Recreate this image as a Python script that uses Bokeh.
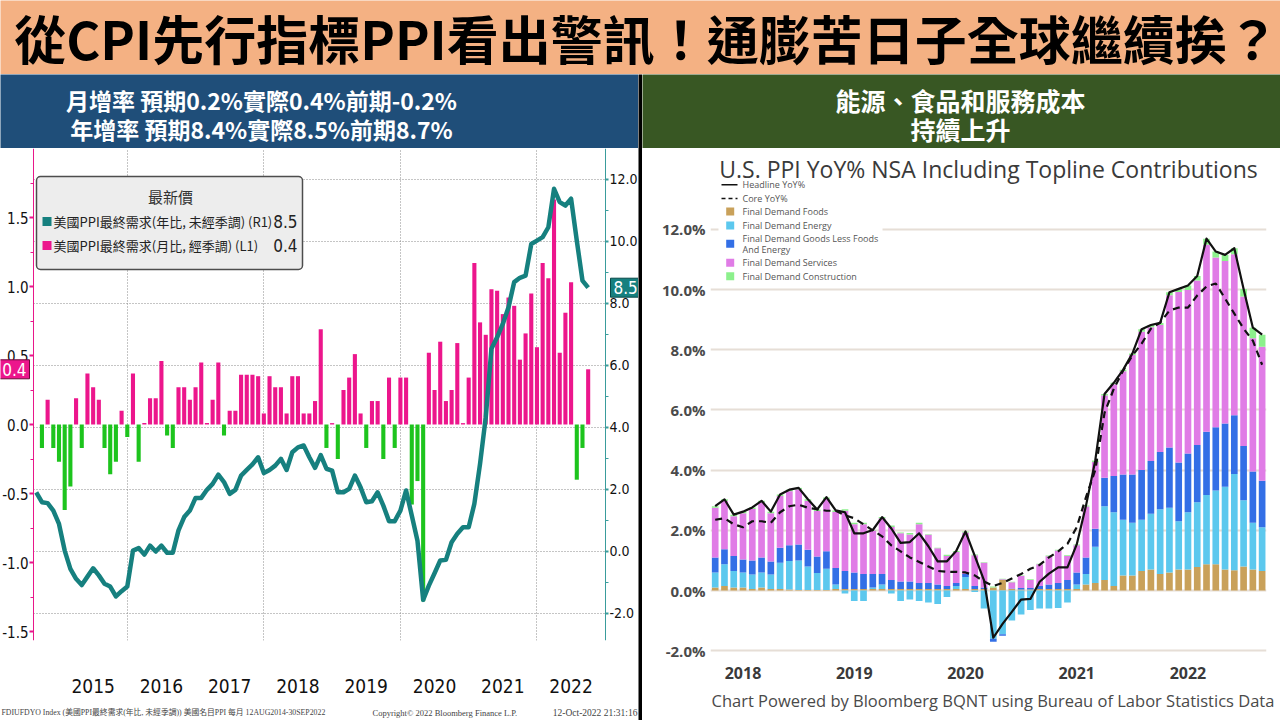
import numpy as np
import pandas as pd
from bokeh.plotting import figure
from bokeh.layouts import column, row
from bokeh.models import (Range1d, LinearAxis, FixedTicker, PrintfTickFormatter, Label,
                          BoxAnnotation, Grid, Plot)
from bokeh.core.properties import value
from bokeh.embed import file_html
from bokeh.resources import INLINE

# ---------------------------------------------------------------- texts
main_title = "從CPI先行指標PPI看出警訊！通膨苦日子全球繼續挨？"
left_header_lines = ["月增率 預期0.2%實際0.4%前期-0.2%", "年增率 預期8.4%實際8.5%前期8.7%"]
right_header_lines = ["能源、食品和服務成本", "持續上升"]

# ---------------------------------------------------------------- left chart data (Bloomberg)
yoy_first_month = "2014-08"
ppi_yoy = [1.90, 1.58, 1.55, 1.31, 0.88,
           0.02, -0.57, -0.89, -1.09, -0.82, -0.55, -0.78, -1.05, -1.14, -1.46, -1.29, -1.14,
           0.02, 0.10, -0.11, 0.18, -0.01, 0.18, -0.05, -0.05, 0.67, 1.10, 1.31, 1.72,
           1.72, 1.98, 2.17, 2.47, 2.23, 1.85, 1.98, 2.44, 2.62, 2.80, 3.03, 2.52,
           2.62, 2.76, 2.98, 2.62, 3.19, 3.35, 3.41, 3.03, 2.69, 3.10, 2.66, 2.60,
           1.90, 1.90, 2.01, 2.44, 2.06, 1.58, 1.61, 1.90, 1.47, 0.97, 0.97, 1.31,
           1.96, 1.15, 0.34, -1.57, -1.11, -0.71, -0.30, -0.28, 0.29, 0.56, 0.77, 0.77,
           1.53, 2.82, 4.32, 6.53, 6.90, 7.33, 7.87, 8.68, 8.82, 8.89, 9.91, 10.02,
           10.13, 10.45, 11.69, 11.26, 11.15, 11.37, 10.02, 8.73, 8.50]
mom_first_month = "2014-09"
ppi_mom = [-0.17, 0.18, -0.17, -0.27,
           -0.62, -0.45, 0.19, -0.17, 0.37, 0.27, 0.18, -0.17, -0.36, -0.27, 0.10, -0.09,
           0.37, -0.27, 0.01, 0.19, 0.19, 0.46, -0.08, -0.17, 0.27, 0.27, 0.18, 0.27,
           0.45, 0.01, 0.18, 0.45, -0.08, 0.10, 0.10, 0.36, 0.36, 0.36, 0.35, 0.08,
           0.35, 0.27, 0.27, 0.08, 0.35, 0.35, 0.08, 0.08, 0.17, 0.69, -0.17, 0.01,
           -0.25, 0.25, 0.34, 0.51, 0.08, -0.17, 0.17, 0.17, -0.25, 0.34, -0.17, 0.34,
           0.34, -0.58, -0.41, -1.28, 0.52, 0.25, 0.60, 0.17, 0.25, 0.59, 0.01, 0.34,
           1.17, 0.74, 0.65, 0.98, 0.97, 0.80, 0.92, 0.86, 0.47, 0.66, 0.95, 0.56,
           1.17, 1.06, 1.63, 0.52, 0.81, 1.03, -0.40, -0.17, 0.40]
left_years = ["2015", "2016", "2017", "2018", "2019", "2020", "2021", "2022"]
left_grid_years = [2016, 2018, 2020, 2022]
mom_ticks = [-1.5, -1.0, -0.5, 0.0, 0.5, 1.0, 1.5]
yoy_ticks = [-2.0, 0.0, 2.0, 4.0, 6.0, 8.0, 10.0, 12.0]
legend_title_left = "最新價"
legend_rows_left = ["美國PPI最終需求(年比, 未經季調) (R1)", "美國PPI最終需求(月比, 經季調) (L1)"]
legend_values_left = ["8.5", "0.4"]
latest_yoy = 8.5
latest_mom = 0.4
footer_left = ["FDIUFDYO Index (美國PPI最終需求(年比, 未經季調)) 美國名目PPI  每月 12AUG2014-30SEP2022",
               "Copyright© 2022 Bloomberg Finance L.P.",
               "12-Oct-2022 21:31:16"]

# ---------------------------------------------------------------- right chart data (contributions)
contrib_first_month = "2017-10"
foods = [0.10, 0.15, 0.10, 0.10, 0.05, 0.10, 0.05, 0.05, 0.03, 0.02, 0.02, 0.02,
         0.02, 0.05, 0.05, 0.05, 0.05, 0.05, 0.05, 0.05, 0.05, 0.05, 0.05, 0.05,
         0.05, 0.05, 0.05, 0.05, 0.05, 0.05, 0.10, 0.35, 0.05, 0.03, 0.03, 0.05,
         0.05, 0.05, 0.05, 0.05, 0.20, 0.25, 0.35, 0.15, 0.50, 0.50, 0.65, 0.70,
         0.55, 0.60, 0.70, 0.70, 0.78, 0.87, 0.87, 0.70, 0.67, 0.80, 0.70, 0.65]
energy = [0.50, 0.72, 0.55, 0.50, 0.48, 0.50, 0.48, 0.87, 0.95, 0.98, 0.78, 0.56,
          0.70, 0.15, -0.10, -0.35, -0.35, 0.05, 0.15, -0.10, -0.35, -0.30, -0.35, -0.40,
          -0.45, -0.22, 0.10, 0.40, -0.05, -0.60, -1.60, -1.45, -1.00, -0.80, -0.65, -0.60,
          -0.60, -0.58, -0.40, 0.15, 0.35, 1.20, 2.45, 2.45, 1.85, 1.75, 1.70, 1.85,
          2.15, 2.15, 1.60, 1.90, 2.15, 2.30, 2.45, 2.75, 3.20, 2.20, 1.55, 1.45]
goods = [0.50, 0.50, 0.50, 0.43, 0.47, 0.50, 0.43, 0.50, 0.52, 0.53, 0.55, 0.55,
         0.58, 0.55, 0.60, 0.55, 0.50, 0.45, 0.35, 0.30, 0.25, 0.25, 0.20, 0.20,
         0.15, 0.10, 0.10, 0.10, 0.10, 0.05, -0.10, -0.05, 0.02, 0.05, 0.05, 0.10,
         0.15, 0.20, 0.30, 0.40, 0.55, 0.60, 0.95, 1.20, 1.50, 1.60, 1.65, 1.75,
         1.90, 2.00, 1.95, 1.95, 1.90, 2.10, 2.10, 2.10, 1.95, 1.80, 1.70, 1.55]
services = [1.65, 1.60, 1.32, 1.54, 1.71, 1.83, 1.61, 1.72, 1.80, 1.83, 1.63, 1.51,
            1.74, 1.86, 2.00, 1.60, 1.65, 1.44, 1.85, 1.76, 1.60, 1.56, 1.95, 1.60,
            1.20, 1.00, 1.03, 1.38, 1.02, 0.82, 0.00, 0.02, 0.20, 0.40, 0.27, 0.72,
            0.94, 1.08, 0.80, 0.90, 1.69, 2.22, 2.73, 3.05, 3.43, 3.97, 4.60, 4.45,
            4.22, 5.06, 5.67, 5.43, 5.47, 6.22, 5.64, 5.40, 5.35, 4.97, 4.43, 4.45]
construction = [0.05, 0.06, 0.05, 0.05, 0.05, 0.05, 0.05, 0.05, 0.05, 0.05, 0.05, 0.05,
                0.05, 0.05, 0.05, 0.05, 0.05, 0.02, 0.04, 0.05, 0.03, 0.05, 0.05, 0.02,
                0.02, 0.04, 0.03, 0.03, 0.03, 0.02, 0.03, 0.02, 0.02, 0.02, 0.02, 0.02,
                0.02, 0.02, 0.02, 0.03, 0.03, 0.05, 0.05, 0.05, 0.05, 0.05, 0.08, 0.07,
                0.07, 0.10, 0.10, 0.15, 0.15, 0.20, 0.20, 0.20, 0.20, 0.25, 0.35, 0.40]
headline_yoy = [2.80, 3.03, 2.52, 2.62, 2.76, 2.98, 2.62, 3.19, 3.35, 3.41, 3.03, 2.69,
                3.10, 2.66, 2.60, 1.90, 1.90, 2.01, 2.44, 2.06, 1.58, 1.61, 1.90, 1.47,
                0.97, 0.97, 1.31, 1.96, 1.15, 0.34, -1.57, -1.11, -0.71, -0.30, -0.28, 0.29,
                0.56, 0.77, 0.77, 1.53, 2.82, 4.32, 6.53, 6.90, 7.33, 7.87, 8.68, 8.82,
                8.89, 9.91, 10.02, 10.13, 10.45, 11.69, 11.26, 11.15, 11.37, 10.02, 8.73, 8.50]
core_yoy = [2.35, 2.40, 2.20, 2.10, 2.30, 2.30, 2.25, 2.60, 2.80, 2.85, 2.75, 2.70,
            2.65, 2.65, 2.50, 2.40, 2.20, 2.00, 1.80, 1.50, 1.30, 1.10, 0.95, 0.80,
            0.65, 0.62, 0.62, 0.60, 0.50, 0.30, 0.15, 0.25, 0.40, 0.55, 0.72, 0.85,
            1.10, 1.30, 1.55, 2.10, 3.10, 4.00, 5.90, 6.70, 7.30, 7.80, 8.20, 8.70,
            8.90, 9.30, 9.40, 9.40, 9.80, 10.10, 10.20, 9.70, 9.20, 8.70, 8.30, 7.50]
series_names = ["Headline YoY%", "Core YoY%", "Final Demand Foods", "Final Demand Energy",
                "Final Demand Goods Less Foods\nAnd Energy", "Final Demand Services",
                "Final Demand Construction"]
right_title = "U.S. PPI YoY% NSA Including Topline Contributions"
right_footer = "Chart Powered by Bloomberg BQNT using Bureau of Labor Statistics Data"
pct_ticks = [-2, 0, 2, 4, 6, 8, 10, 12]

# ---------------------------------------------------------------- styles
PINK, GREEN, TEAL = "#EC168C", "#1DC41D", "#16807F"
AX_PINK, AX_TEAL = "#E8178A", "#3A9C9C"
C_FOODS, C_ENERGY, C_GOODS, C_SERV, C_CONS = "#C9A15A", "#5CC8EE", "#336FE6", "#E07CE6", "#8CF08C"
NARROW = "'Liberation Sans Narrow', 'Noto Sans Condensed', 'DejaVu Sans Condensed', sans-serif"
CJK = "Noto Sans CJK TC"
OPEN = "Open Sans"
SERIF = "'Liberation Serif', 'Noto Sans CJK TC', serif"
HAS_FRAME_ALIGN = "frame_align" in Plot.properties()
HAS_CROSS_BOUNDS = "cross_bounds" in Grid.properties()


def new_fig(**kw):
    if HAS_FRAME_ALIGN:
        kw["frame_align"] = False
    return figure(output_backend="svg", toolbar_location=None, **kw)


def blank(w, h, bg):
    f = new_fig(width=w, height=h, x_range=Range1d(0, w), y_range=Range1d(0, h),
                x_axis_location=None, y_axis_location=None,
                min_border=0, outline_line_color=None,
                background_fill_color=bg, border_fill_color=bg)
    f.grid.visible = False
    return f


def month_index(first, n):
    per = pd.period_range(first, periods=n, freq="M")
    return np.array([(p.year - 2015) * 12 + p.month for p in per], dtype=float)


# ---------------------------------------------------------------- title band + headers
pt = blank(1280, 74, "#F4B183")
pt.add_layout(Label(x=646, y=37, text=main_title, text_font=CJK, text_font_size="52px",
                    text_font_style="bold", text_color="#000000",
                    text_align="center", text_baseline="middle"))

hl = blank(638, 74, "#1F4E79")
hr = blank(638, 74, "#385723")
for f, lines, cx, fs in ((hl, left_header_lines, 261, "23px"), (hr, right_header_lines, 318, "25px")):
    for txt, yy in zip(lines, (49, 20)):
        f.add_layout(Label(x=cx, y=yy, text=txt, text_font=CJK, text_font_size=fs,
                           text_font_style="bold", text_color="white",
                           text_align="center", text_baseline="middle"))

divider = blank(4, 646, "#000000")

# ---------------------------------------------------------------- left chart (Bloomberg)
def lx(px):   # page x -> month position
    return (px - 58.5) / 5.69


def ly(py):   # page y -> MoM (left axis)
    return (424.0 - py) / 138.0


def ly2(py):  # page y -> YoY (right axis)
    return 4.0 + (426.7 - py) / 31.0


pl = new_fig(width=638, height=556, x_range=Range1d(lx(0), lx(638)),
             y_range=Range1d(ly(640), ly(148)),
             min_border_left=0, min_border_right=0, min_border_top=0, min_border_bottom=64,
             outline_line_color=None, background_fill_color="white", border_fill_color="white")
pl.extra_y_ranges = {"yoy": Range1d(ly2(640), ly2(148))}

t_mom = month_index(mom_first_month, len(ppi_mom))
t_yoy = month_index(yoy_first_month, len(ppi_yoy))
mom_colors = [PINK if v >= 0 else GREEN for v in ppi_mom]

# grid
pl.xgrid.ticker = FixedTicker(ticks=[(y - 2015) * 12 for y in left_grid_years])
pl.grid.grid_line_color = "#8a8a8a"
pl.grid.grid_line_dash = "1 2"
pl.grid.grid_line_width = 1
if HAS_CROSS_BOUNDS:
    pl.ygrid.ticker = FixedTicker(ticks=yoy_ticks)
    pl.ygrid.y_range_name = "yoy"
    pl.ygrid.cross_bounds = (lx(33), lx(605))
else:
    pl.ygrid.visible = False
    pl.segment(x0=lx(33), x1=lx(605), y0=yoy_ticks, y1=yoy_ticks, y_range_name="yoy",
               line_color="#8a8a8a", line_dash="1 2", line_width=1, level="underlay")

pl.vbar(x=t_mom, top=ppi_mom, bottom=0, width=0.72, fill_color=mom_colors, line_color=None)
pl.line(t_yoy, ppi_yoy, y_range_name="yoy", line_color=TEAL, line_width=4.5, line_join="round")


def style_axis(a, color, size, tick_out, standoff):
    a.axis_line_color = color
    a.major_tick_line_color = color
    a.minor_tick_line_color = color
    a.major_tick_line_width = 2
    a.major_tick_out, a.major_tick_in, a.minor_tick_out, a.minor_tick_in = tick_out, 0, 3, 0
    a.major_label_standoff = standoff
    a.major_label_text_font = NARROW
    a.major_label_text_font_size = size
    a.major_label_text_color = "#111111"


ax = pl.yaxis[0]
ax.ticker = FixedTicker(ticks=mom_ticks, minor_ticks=[v + 0.25 for v in mom_ticks[:-1]] + [-1.75, 1.75])
ax.formatter = PrintfTickFormatter(format="%.1f")
ax.fixed_location = lx(33)
style_axis(ax, AX_PINK, "15px", 4, 1)

ar = LinearAxis(y_range_name="yoy",
                ticker=FixedTicker(ticks=yoy_ticks, minor_ticks=[v + 1 for v in yoy_ticks[:-1]]),
                formatter=PrintfTickFormatter(format="%.1f"), fixed_location=lx(605))
style_axis(ar, AX_TEAL, "14px", 3, 1)
pl.add_layout(ar, "right")

year_pos = [(int(y) - 2015) * 12 + 6 for y in left_years]
xa = pl.xaxis[0]
xa.ticker = FixedTicker(ticks=year_pos)
xa.major_label_overrides = {p: y for p, y in zip(year_pos, left_years)}
xa.axis_line_color = None
xa.major_tick_line_color = None
xa.minor_tick_line_color = None
xa.major_tick_out = 0
xa.minor_tick_out = 0
xa.major_label_standoff = 38
xa.major_label_text_font = NARROW
xa.major_label_text_font_size = "19px"
xa.major_label_text_color = "#111111"

# legend box (Bloomberg style)
pl.add_layout(BoxAnnotation(left=lx(36), right=lx(302), top=ly(176), bottom=ly(269),
                            fill_color="#EDEDED", fill_alpha=1, line_color="#4D4D4D",
                            line_alpha=1, line_width=1.5, border_radius=4))
pl.add_layout(Label(x=lx(170), y=ly(196), text=legend_title_left, text_font=CJK,
                    text_font_size="15px", text_color="#333333", text_align="center",
                    text_baseline="middle", level="overlay"))
row_y = [ly(221), ly(245)]
pl.scatter(x=[lx(46.5)] * 2, y=row_y, marker="square", size=9, fill_color=[TEAL, PINK],
           line_color=None, level="overlay")
for txt, val, yy in zip(legend_rows_left, legend_values_left, row_y):
    pl.add_layout(Label(x=lx(53), y=yy, text=txt, text_font=CJK, text_font_size="13px",
                        text_color="#222222", text_align="left", text_baseline="middle",
                        level="overlay"))
    pl.add_layout(Label(x=lx(297), y=yy, text=val, text_font=NARROW, text_font_size="17px",
                        text_color="#222222", text_align="right", text_baseline="middle",
                        level="overlay"))

# latest value tags on axes
pl.add_layout(Label(x=lx(29), y=latest_mom, text=legend_values_left[1], text_font=NARROW,
                    text_font_size="17px", text_color="white", text_align="right",
                    text_baseline="middle", background_fill_color=PINK,
                    border_line_color="#6a0a3a", padding=3, level="overlay"))
pl.add_layout(Label(x=lx(610), y=latest_yoy, y_range_name="yoy", text=legend_values_left[0],
                    text_font=NARROW, text_font_size="17px", text_color="white",
                    text_align="left", text_baseline="middle", background_fill_color=TEAL,
                    border_line_color="#0b4a4a", padding=3, level="overlay"))

# footer strip (Bloomberg)
fl = blank(638, 16, "white")
for txt, px, align, fs in zip(footer_left, (1, 372, 637), ("left", "left", "right"),
                              ("7.8px", "8.5px", "9.5px")):
    fl.add_layout(Label(x=px, y=8, text=txt, text_font=SERIF, text_font_size=fs,
                        text_color="#444444", text_align=align, text_baseline="middle"))

# ---------------------------------------------------------------- right chart (contributions)
def rx(px):
    return (px - 714.7) / 9.27


def ry(py):
    return (590.0 - py) / 30.1


pr = new_fig(width=638, height=542, x_range=Range1d(rx(710), rx(1266)),
             y_range=Range1d(ry(665), ry(148)),
             min_border_left=68, min_border_right=14, min_border_top=0, min_border_bottom=25,
             outline_line_color=None, background_fill_color="white", border_fill_color="white")

pr.xgrid.visible = False
pr.ygrid.grid_line_color = "#E6DED6"
pr.ygrid.grid_line_width = 2

n = len(headline_yoy)
idx = np.arange(n)
pos_base = np.zeros(n)
neg_base = np.zeros(n)
for comp, col in ((foods, C_FOODS), (energy, C_ENERGY), (goods, C_GOODS),
                  (services, C_SERV), (construction, C_CONS)):
    arr = np.array(comp, dtype=float)
    pos = np.clip(arr, 0, None)
    neg = np.clip(arr, None, 0)
    bottom = np.where(arr >= 0, pos_base, neg_base + neg)
    top = np.where(arr >= 0, pos_base + pos, neg_base)
    pr.vbar(x=idx, bottom=bottom, top=top, width=0.72, fill_color=col, line_color=None)
    pos_base += pos
    neg_base += neg

pr.line(idx, core_yoy, line_color="#111111", line_width=2.2, line_dash="7 5")
pr.line(idx, headline_yoy, line_color="#111111", line_width=2.2, line_join="round")

per = pd.period_range(contrib_first_month, periods=n, freq="M")
jan_idx = [i for i, p in enumerate(per) if p.month == 1]
pr.xaxis.ticker = FixedTicker(ticks=jan_idx)
pr.xaxis.major_label_overrides = {i: str(per[i].year) for i in jan_idx}
pr.xaxis.axis_line_color = None
pr.xaxis.major_tick_line_color = None
pr.xaxis.minor_tick_line_color = None
pr.xaxis.major_tick_out = 0
pr.xaxis.minor_tick_out = 0
pr.xaxis.major_label_standoff = 1
pr.xaxis.major_label_text_font = OPEN
pr.xaxis.major_label_text_font_size = "16px"
pr.xaxis.major_label_text_font_style = "bold"
pr.xaxis.major_label_text_color = "#3a3a3a"

pr.yaxis.ticker = FixedTicker(ticks=pct_ticks)
pr.yaxis.formatter = PrintfTickFormatter(format="%.1f%%")
pr.yaxis.axis_line_color = None
pr.yaxis.major_tick_line_color = None
pr.yaxis.minor_tick_line_color = None
pr.yaxis.major_tick_out = 0
pr.yaxis.minor_tick_out = 0
pr.yaxis.major_label_standoff = 5
pr.yaxis.major_label_text_font = OPEN
pr.yaxis.major_label_text_font_size = "15px"
pr.yaxis.major_label_text_font_style = "bold"
pr.yaxis.major_label_text_color = "#4a4a4a"

# legend
pr.quad(left=rx(718), right=rx(882), top=ry(177), bottom=ry(283), fill_color="white",
        line_color=None)
pr.segment(x0=[rx(721)], y0=[ry(184.3)], x1=[rx(737)], y1=[ry(184.3)], line_color="#111111",
           line_width=1.5)
pr.segment(x0=[rx(721)], y0=[ry(198)], x1=[rx(737)], y1=[ry(198)], line_color="#111111",
           line_width=1.5, line_dash="4 3")
sq_y = [ry(211), ry(225), ry(243.3), ry(262.3), ry(275.7)]
pr.scatter(x=[rx(729.7)] * 5, y=sq_y, marker="square", size=8,
           fill_color=[C_FOODS, C_ENERGY, C_GOODS, C_SERV, C_CONS], line_color=None)
leg_lines = []
for name in series_names:
    leg_lines.extend(name.split("\n"))
leg_y = [ry(v) for v in (184.3, 198, 211, 225, 238.3, 249.3, 262.3, 275.7)]
pr.text(x=[rx(742)] * len(leg_lines), y=leg_y, text=leg_lines, text_font=value(OPEN),
        text_font_size="9px", text_color="#555555", text_baseline="middle", text_align="left")

pr.add_layout(Label(x=rx(988), y=ry(168), text=right_title, text_font=OPEN,
                    text_font_size="23px", text_color="#3a3a3a", text_align="center",
                    text_baseline="middle"))

fr = blank(638, 30, "white")
fr.add_layout(Label(x=711 - 642, y=20, text=right_footer, text_font=OPEN,
                    text_font_size="16.5px", text_color="#4a4a4a", text_align="left",
                    text_baseline="middle"))

# ---------------------------------------------------------------- layout
layout = column(pt, row(column(hl, pl, fl), divider, column(hr, pr, fr)))
open("out.html", "w").write(file_html(layout, INLINE))
